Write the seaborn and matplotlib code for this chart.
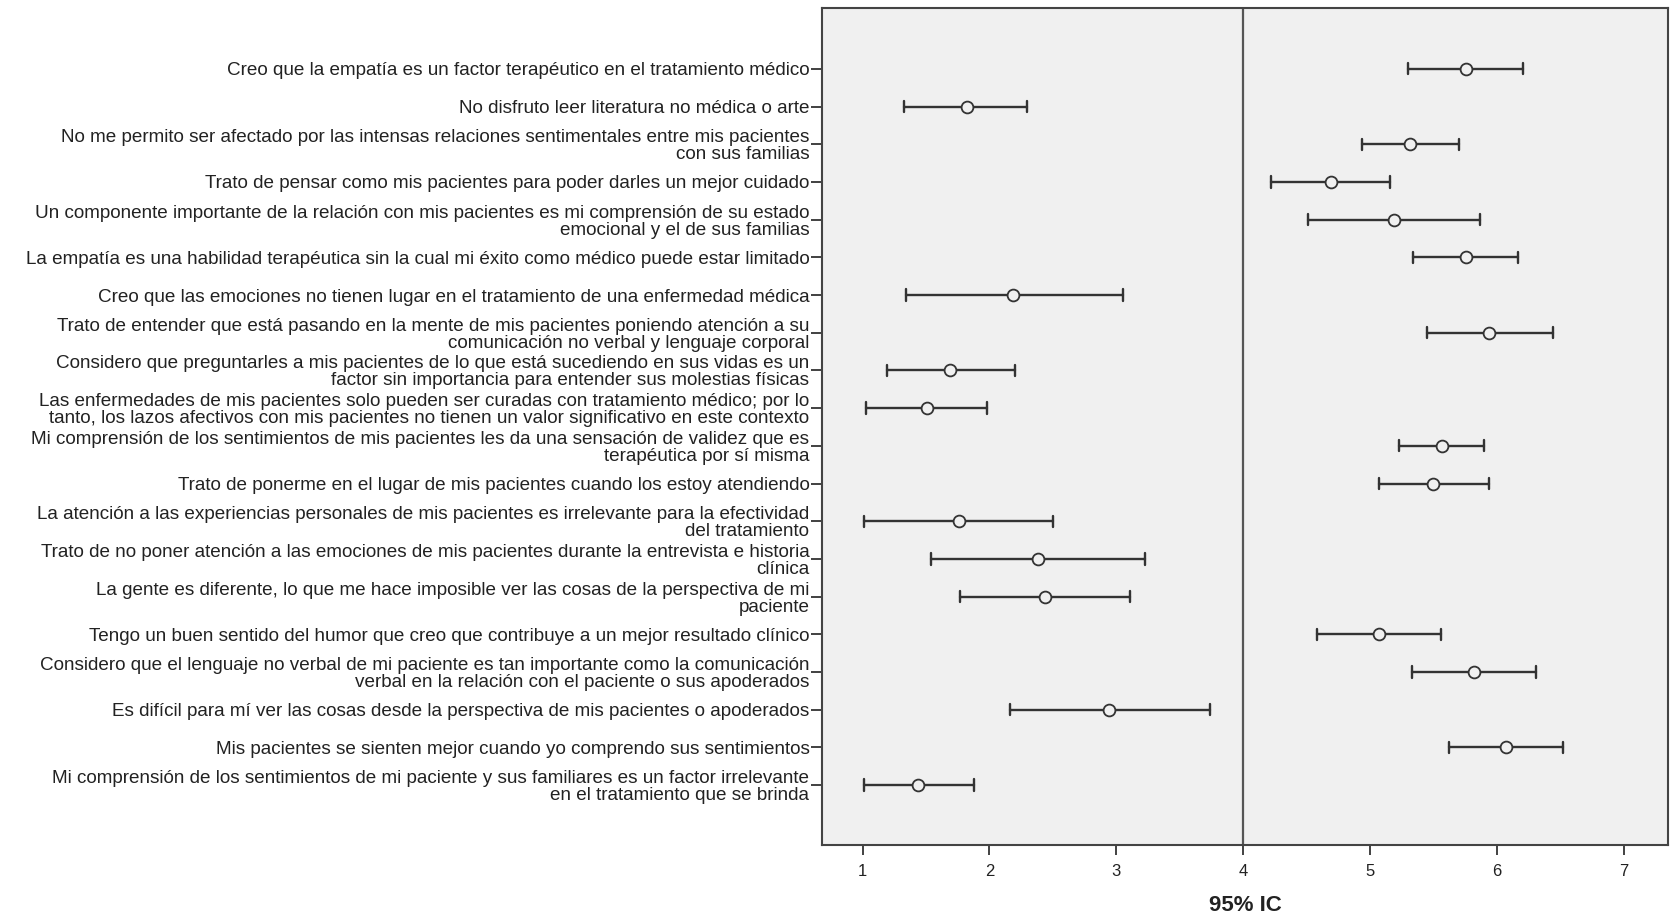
import matplotlib
matplotlib.use("Agg")
import matplotlib.pyplot as plt
import seaborn as sns
import pandas as pd

items = [
    "Creo que la empatía es un factor terapéutico en el tratamiento médico",
    "No disfruto leer literatura no médica o arte",
    "No me permito ser afectado por las intensas relaciones sentimentales entre mis pacientes\ncon sus familias",
    "Trato de pensar como mis pacientes para poder darles un mejor cuidado",
    "Un componente importante de la relación con mis pacientes es mi comprensión de su estado\nemocional y el de sus familias",
    "La empatía es una habilidad terapéutica sin la cual mi éxito como médico puede estar limitado",
    "Creo que las emociones no tienen lugar en el tratamiento de una enfermedad médica",
    "Trato de entender que está pasando en la mente de mis pacientes poniendo atención a su\ncomunicación no verbal y lenguaje corporal",
    "Considero que preguntarles a mis pacientes de lo que está sucediendo en sus vidas es un\nfactor sin importancia para entender sus molestias físicas",
    "Las enfermedades de mis pacientes solo pueden ser curadas con tratamiento médico; por lo\ntanto, los lazos afectivos con mis pacientes no tienen un valor significativo en este contexto",
    "Mi comprensión de los sentimientos de mis pacientes les da una sensación de validez que es\nterapéutica por sí misma",
    "Trato de ponerme en el lugar de mis pacientes cuando los estoy atendiendo",
    "La atención a las experiencias personales de mis pacientes es irrelevante para la efectividad\ndel tratamiento",
    "Trato de no poner atención a las emociones de mis pacientes durante la entrevista e historia\nclínica",
    "La gente es diferente, lo que me hace imposible ver las cosas de la perspectiva de mi\npaciente",
    "Tengo un buen sentido del humor que creo que contribuye a un mejor resultado clínico",
    "Considero que el lenguaje no verbal de mi paciente es tan importante como la comunicación\nverbal en la relación con el paciente o sus apoderados",
    "Es difícil para mí ver las cosas desde la perspectiva de mis pacientes o apoderados",
    "Mis pacientes se sienten mejor cuando yo comprendo sus sentimientos",
    "Mi comprensión de los sentimientos de mi paciente y sus familiares es un factor irrelevante\nen el tratamiento que se brinda",
]
means = [5.76, 1.82, 5.32, 4.69, 5.19, 5.76, 2.19, 5.94, 1.69, 1.51,
         5.57, 5.50, 1.76, 2.38, 2.44, 5.07, 5.82, 2.94, 6.07, 1.44]
lower = [5.30, 1.33, 4.94, 4.22, 4.51, 5.34, 1.34, 5.45, 1.19, 1.03,
         5.23, 5.07, 1.01, 1.54, 1.77, 4.58, 5.33, 2.16, 5.62, 1.01]
upper = [6.21, 2.30, 5.70, 5.16, 5.87, 6.17, 3.05, 6.44, 2.20, 1.98,
         5.90, 5.94, 2.50, 3.23, 3.11, 5.56, 6.31, 3.74, 6.52, 1.88]
xticks = [1, 2, 3, 4, 5, 6, 7]
xlabel = "95% IC"

rows = []
for it, lo, m, hi in zip(items, lower, means, upper):
    for v in (lo, m, hi):
        rows.append({"item": it, "valor": v})
df = pd.DataFrame(rows)

sns.set_theme(style="white")
plt.rcParams['font.family'] = ['Liberation Sans', 'DejaVu Sans']

fig = plt.figure(figsize=(16.74, 9.21), dpi=100)
ax = fig.add_axes([0.491, 0.082, 0.5054, 0.9088])
ax.set_facecolor('#F0F0F0')
ax.axvline(4, color='#555555', lw=1.6, zorder=1)

sns.pointplot(data=df, x="valor", y="item", order=items,
              estimator="median", errorbar=("pi", 100),
              linestyle="none", marker="o", markersize=8.5,
              markerfacecolor="#F0F0F0", markeredgecolor="#333333",
              markeredgewidth=1.3, color="#333333", capsize=0.3,
              err_kws={"linewidth": 1.7}, ax=ax)

for ln in ax.lines:
    if ln.get_marker() == 'o':
        ln.set_zorder(5)

ax.set_xlim(0.68, 7.35)
ax.set_ylim(len(items) - 1 + 1.6, -1.6)
ax.set_xticks(xticks)
ax.set_xticklabels([str(t) for t in xticks], fontsize=12, color='#222222')
ax.set_ylabel("")
ax.set_xlabel(xlabel, fontsize=16, fontweight='bold', color='#222222', labelpad=12)
ax.tick_params(axis='y', length=8, width=1.3, color='#333333', pad=1,
               labelsize=13.6, labelcolor='#222222', left=True)
ax.tick_params(axis='x', length=7, width=1.3, color='#333333', pad=6, bottom=True)
for lab in ax.get_yticklabels():
    lab.set_linespacing(1.0)
for sp in ax.spines.values():
    sp.set_color('#444444')
    sp.set_linewidth(1.5)

fig.savefig("out.png", dpi=100, facecolor='white')
